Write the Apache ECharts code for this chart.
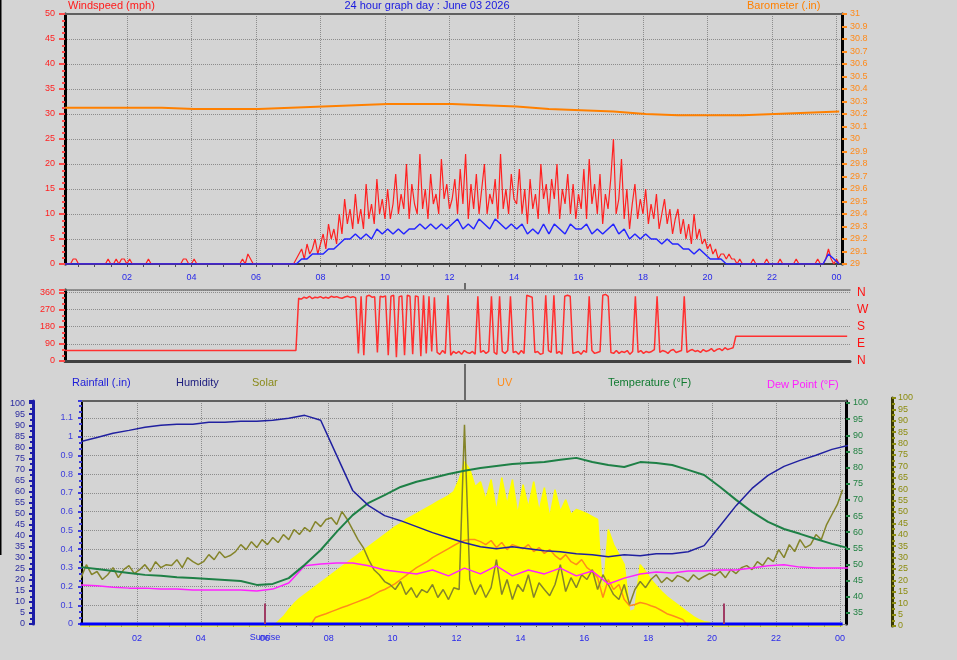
<!DOCTYPE html>
<html>
<head>
<meta charset="utf-8">
<script src="https://cdn.jsdelivr.net/npm/echarts@6/dist/echarts.min.js"></script>
<style>
html,body{margin:0;padding:0;background:#d4d4d4;}
#c{width:957px;height:660px;}
</style>
</head>
<body>
<div id="c"></div>
<script>
// ---------- tick labels ----------
const hourLabels = [2,4,6,8,10,12,14,16,18,20,22,24];
const tempTicks = [35,40,45,50,55,60,65,70,75,80,85,90,95,100];
const dirLetters = {0:'N',90:'E',180:'S',270:'W',360:'N'};
const sunEvents = [6.0, 20.37];   // sunrise / sunset (hours)

// ---------- 5-minute data (first sample 00:05) ----------
const windGust = [
 0,0,0,1,1,0,0,0,0,0,0,0,
 0,0,0,0,1,0,0,1,0,1,1,0,
 1,0,0,0,0,0,0,1,0,0,0,0,
 0,0,0,0,0,0,0,0,1,1,0,0,
 1,0,0,0,0,0,0,0,0,0,0,0,
 0,0,0,0,0,0,1,0,2,1,0,0,
 0,0,0,0,0,0,0,0,0,0,0,0,
 0,0,1,2,3,1,4,2,3,5,2,4,
 6,3,8,5,7,4,10,6,13,8,11,7,
 14,8,11,7,16,9,12,8,17,10,13,9,
 15,9,12,18,10,14,11,20,9,16,12,10,
 22,11,15,9,18,12,14,10,21,13,16,11,
 13,17,10,19,12,22,9,16,11,18,10,15,
 20,10,14,12,17,9,22,11,15,10,18,13,
 12,19,10,15,8,17,11,14,9,20,13,16,
 10,17,13,20,9,15,12,18,10,16,9,14,
 11,19,9,21,12,16,10,18,8,14,11,17,
 25,10,13,21,9,15,7,12,16,9,13,10,
 15,8,12,9,14,7,10,13,8,11,6,9,
 11,6,9,5,8,4,10,5,7,4,5,3,
 4,2,3,1,2,2,1,2,1,1,0,1,
 0,0,0,0,1,0,0,0,0,1,0,0,
 0,0,1,0,0,0,0,0,1,0,0,0,
 0,0,0,0,1,0,0,1,3,1,0,1,
 0];
const windDir = [
 55,55,55,55,55,55,55,55,55,55,55,55,
 55,55,55,55,55,55,55,55,55,55,55,55,
 55,55,55,55,55,55,55,55,55,55,55,55,
 55,55,55,55,55,55,55,55,55,55,55,55,
 55,55,55,55,55,55,55,55,55,55,55,55,
 55,55,55,55,55,55,55,55,55,55,55,55,
 55,55,55,55,55,55,55,55,55,55,55,55,
 55,55,330,325,335,330,340,328,335,332,338,330,
 335,330,340,335,338,332,330,336,340,334,338,332,
 40,340,30,340,345,335,338,45,340,336,342,30,
 340,345,20,338,342,30,345,340,35,342,338,25,
 345,40,340,50,335,45,35,55,40,345,30,50,
 40,50,35,55,45,40,50,35,340,45,55,40,
 50,340,45,35,340,50,40,55,340,45,50,35,
 55,40,345,340,335,45,50,35,40,345,55,45,
 345,40,50,35,340,345,340,40,45,50,35,55,
 45,340,55,40,45,50,345,350,340,45,40,55,
 40,50,45,55,35,50,340,45,55,40,50,45,
 50,60,340,45,55,50,40,55,60,45,50,55,
 340,45,55,60,50,55,45,60,50,55,65,50,
 60,65,55,70,60,65,70,130,130,130,130,130,
 130,130,130,130,130,130,130,130,130,130,130,130,
 130,130,130,130,130,130,130,130,130,130,130,130,
 130,130,130,130,130,130,130,130,130,130,130,130,
 130];

// ---------- 10-minute data (first sample 00:05) ----------
const windAvg = [
 0,0,0,0,0,0, 0,0,0,0,0,0, 0,0,0,0,0,0, 0,0,0,0,0,0, 0,0,0,0,0,0, 0,0,0,0,0,0,
 0,0,0,0,0,0, 0,0,1,1,2,2, 2,3,3,4,5,5, 6,5,6,5,7,6, 7,6,7,6,7,7,
 8,7,8,7,8,7, 8,9,7,8,7,9, 8,7,9,8,7,8, 7,8,6,7,6,8,
 6,8,7,6,8,7, 7,8,6,7,6,7, 8,6,7,5,6,5, 6,5,5,4,5,4,
 4,3,3,2,3,2, 1,1,1,0,0,0, 0,0,0,0,0,0, 0,0,0,0,0,0, 0,0,0,0,2,1, 0];
const solarLine = [
 24.7,21.2,26.9,22.5,23.9,20.4, 22.5,25.6,21.2,24.7,26.5,23.0, 24.7,26.9,23.9,28.2,25.6,26.9,
 26.5,29.1,25.6,30.0,28.2,26.9, 28.2,31.3,29.1,32.6,30.0,30.9, 32.6,35.7,33.5,37.0,34.4,37.9,
 35.7,38.8,36.6,40.1,37.9,42.3, 40.1,43.2,41.4,45.8,43.6,46.7, 47.5,44.5,50.2,46.7,42.3,37.9,
 34.4,29.1,24.7,22.5,19.5,18.2, 16.0,19.5,13.8,16.8,12.5,16.0, 14.6,18.2,12.5,16.0,11.6,16.8,
 16.0,88.3,20.4,13.8,18.2,12.5, 16.8,29.1,13.8,20.4,11.6,18.2, 15.1,22.5,12.5,19.0,16.0,13.3,
 18.2,26.9,15.1,21.2,16.8,22.5, 20.4,24.7,16.0,22.5,18.2,13.8, 11.6,18.2,9.4,16.0,19.5,16.8,
 20.4,22.5,19.0,21.2,19.5,22.1, 21.2,19.5,22.5,20.4,21.7,23.0, 22.1,23.9,21.2,24.7,23.0,25.6,
 26.5,24.7,28.2,26.5,30.0,28.2, 33.5,30.0,35.7,32.6,37.9,34.4, 35.7,40.1,37.9,44.5,48.9,53.2, 59.8];
const solarArea = [
 0,0,0,0,0,0, 0,0,0,0,0,0, 0,0,0,0,0,0, 0,0,0,0,0,0, 0,0,0,0,0,0, 0,0,0,0,0,0,
 0,0,1.9,4.1,7.2,9.8, 12.0,13.8,15.5,17.3,19.0,20.8, 22.5,24.3,26.1,27.8,29.6,31.3,
 33.1,34.8,36.6,38.3,40.1,41.8, 43.6,44.9,46.7,48.0,49.3,50.6, 51.9,53.2,54.6,55.9,57.2,59.0,
 64.2,72.1,68.6,61.1,63.3,55.4, 64.2,50.2,65.1,53.2,64.2,48.9, 62.0,51.9,63.3,50.2,60.7,47.5,
 59.8,50.2,55.4,48.9,51.1,50.2, 49.3,48.0,46.7,11.6,42.3,35.7, 31.3,26.9,6.3,7.2,26.9,23.9,
 20.4,17.7,15.1,12.9,11.1,9.4, 7.6,5.9,4.1,2.8,1.9,1.5,
 0,0,0,0,0,0, 0,0,0,0,0,0, 0,0,0,0,0,0, 0,0,0,0,0,0, 0];
const uvIndex = [
 null,null,null,null,null,null, null,null,null,null,null,null, null,null,null,null,null,null,
 null,null,null,null,null,null, null,null,null,null,null,null, null,null,null,null,null,null,
 null,null,null,null,null,null, null,null,0,3.7,4.6,5.4, 6.3,7.2,8.1,8.9,9.8,10.7,
 11.6,12.5,13.8,15.1,16.0,17.3, 18.6,20.4,22.1,23.9,25.6,26.9, 28.2,30.0,31.3,32.6,33.9,35.3,
 36.6,37.5,37.9,37.9,37.0,35.7, 37.5,34.4,36.6,33.5,35.7,34.8, 33.9,35.7,32.6,34.4,31.8,33.5,
 30.9,29.1,31.3,28.2,26.9,29.1, 25.6,23.9,21.2,12.5,20.4,16.0, 18.2,11.6,8.9,9.4,10.3,9.8,
 8.9,8.1,6.8,5.4,4.6,3.7, 2.8,0,null,null,null,null,
 null,null,null,null,null,null, null,null,null,null,null,null, null,null,null,null,null,null,
 null,null,null,null,null,null, null];

// ---------- 30-minute data (first sample 00:15) ----------
const humidity = [82.7,84.5,86.4,87.7,89.1,90.0,90.5,90.5,91.4,91.4,
 91.8,91.8,92.3,93.2,94.5,92.3,76.4,60.5,53.6,49.1,
 46.8,44.1,41.4,39.1,36.8,35.0,34.1,35.0,34.1,33.2,
 32.7,31.8,31.4,30.5,31.4,30.9,31.8,31.8,32.7,35.5,
 44.5,53.6,61.4,67.3,71.4,74.1,76.4,79.1,80.9];
const temperature = [49.2,48.6,48.0,47.4,46.8,46.5,46.1,45.8,45.5,45.2,
 44.9,43.7,44.0,45.8,49.9,54.5,60.1,65.3,69.1,71.5,
 74.0,75.6,76.8,78.0,79.0,79.9,80.5,81.1,81.4,81.7,
 82.4,83.0,81.7,80.8,80.2,81.7,81.4,80.8,79.3,77.7,
 74.0,70.0,66.3,63.2,61.0,59.5,57.9,56.4,55.1];
const dewPoint = [43.7,43.4,43.0,42.7,42.7,42.4,42.4,42.1,42.1,42.1,
 42.1,41.8,42.4,44.3,49.6,50.2,50.5,50.5,49.6,48.3,
 47.7,47.1,48.3,46.5,48.9,47.1,49.6,46.5,48.3,47.1,
 48.9,46.5,48.0,44.0,45.8,47.1,47.7,47.4,48.0,48.0,
 48.3,48.3,48.9,49.6,49.9,49.2,48.9,48.9,48.9];

// ---------- hourly data (first sample 00:05) ----------
const barometer = [30.25,30.25,30.25,30.25,30.24,30.24,30.24,30.25,30.26,30.27,
 30.28,30.28,30.28,30.27,30.26,30.24,30.23,30.22,30.20,30.19,30.19,30.19,30.20,30.21,30.22];
const rainfall = [0,0,0,0,0,0,0,0,0,0,0,0,0,0,0,0,0,0,0,0,0,0,0,0,0];

// ---------- build ----------
const FONT = '"Liberation Sans", Arial, sans-serif';
const pairs = (vals, startMin, stepMin) => vals.map((v, i) => [(startMin + stepMin * i) / 60, v]);
const halfHours = [];
for (let h = 0.5; h <= 24.001; h += 0.5) halfHours.push(h);
const hourFmt = v => String(Math.round(v) % 24).padStart(2, '0');

const TOP_X = {min: 0.08, max: 24.17};
const MID_X = {min: 0.08, max: 24.17};
const BOT_X = {min: 0.28, max: 24.19};

function labelAxis(grid, rng, margin) {
  return {type:'value', gridIndex:grid, min:rng.min, max:rng.max, position:'bottom',
    axisLine:{show:true, onZero:false, lineStyle:{color:'#404040', width:2}},
    axisTick:{show:false, customValues:hourLabels},
    axisLabel:{customValues:hourLabels, formatter:hourFmt, color:'#2828e8', fontSize:9, margin:margin, fontFamily:FONT},
    splitLine:{show:true, lineStyle:{color:'#8c8c8c', type:'dotted', width:1}}};
}
function tickAxis(grid, rng) {
  return {type:'value', gridIndex:grid, min:rng.min, max:rng.max, position:'bottom',
    axisLine:{show:false, onZero:false},
    axisTick:{show:true, customValues:halfHours, length:3, lineStyle:{color:'#505050'}},
    axisLabel:{show:false}, splitLine:{show:false}};
}
function borderAxis(grid, rng, pos, color, width) {
  return {type:'value', gridIndex:grid, min:rng.min, max:rng.max, position:pos,
    axisLine:{show:true, onZero:false, lineStyle:{color:color, width:width}},
    axisTick:{show:false}, axisLabel:{show:false}, splitLine:{show:false}};
}

const chart = echarts.init(document.getElementById('c'), null, {renderer:'canvas'});
const option = {
  backgroundColor:'#d4d4d4',
  animation:false,
  textStyle:{fontFamily:FONT},
  grid:[
    {left:65, right:115, top:14, height:250},
    {left:65, right:107, top:290, height:71},
    {left:82, right:111, top:401, height:223},
    {left:82, right:111, top:398, height:228}
  ],
  xAxis:[
    labelAxis(0, TOP_X, 9),                          //0
    tickAxis(0, TOP_X),                              //1
    borderAxis(0, TOP_X, 'top', '#606060', 2),       //2
    borderAxis(1, MID_X, 'bottom', '#404040', 3),    //3
    borderAxis(1, MID_X, 'top', '#7a7a7a', 1.5),     //4
    Object.assign(labelAxis(2, BOT_X, 10), {axisLine:{show:true, onZero:false, lineStyle:{color:'#808080', width:1}}}), //5
    tickAxis(2, BOT_X),                              //6
    borderAxis(2, BOT_X, 'top', '#606060', 2),       //7
    {type:'value', gridIndex:3, min:BOT_X.min, max:BOT_X.max, show:false} //8
  ],
  yAxis:[
    {type:'value', gridIndex:0, min:0, max:50, interval:5, position:'left',
     axisLine:{show:true, onZero:false, lineStyle:{color:'#000', width:3}},
     axisTick:{show:true, length:6, lineStyle:{color:'#ff4a4a', width:2}},
     minorTick:{show:true, splitNumber:4, length:3, lineStyle:{color:'#ff4a4a', width:2}},
     axisLabel:{color:'#ff2020', fontSize:9, margin:10, fontFamily:FONT},
     splitLine:{show:true, lineStyle:{color:'#8c8c8c', type:'dotted'}}},
    {type:'value', gridIndex:0, min:29, max:31, interval:0.1, position:'right',
     axisLine:{show:true, onZero:false, lineStyle:{color:'#000', width:3}},
     axisTick:{show:true, length:5, lineStyle:{color:'#ff8a1a', width:2}},
     axisLabel:{color:'#ff8a1a', fontSize:9, margin:8, fontFamily:FONT, formatter:v => String(+v.toFixed(1))},
     splitLine:{show:false}},
    {type:'value', gridIndex:1, min:0, max:373, interval:90, position:'left',
     axisLine:{show:true, onZero:false, lineStyle:{color:'#000', width:3}},
     axisTick:{show:true, length:6, lineStyle:{color:'#ff4a4a', width:2}},
     minorTick:{show:true, splitNumber:3, length:3, lineStyle:{color:'#ff4a4a', width:2}},
     axisLabel:{color:'#ff2020', fontSize:9, margin:10, fontFamily:FONT, showMaxLabel:false},
     splitLine:{show:true, lineStyle:{color:'#8c8c8c', type:'dotted'}}},
    {type:'value', gridIndex:1, min:0, max:373, interval:90, position:'right',
     axisLine:{show:false, onZero:false}, axisTick:{show:false},
     axisLabel:{color:'#ff1010', fontSize:12, margin:7, fontFamily:FONT, showMaxLabel:false,
       formatter:v => dirLetters[Math.round(v)] || ''},
     splitLine:{show:false}},
    {type:'value', gridIndex:2, min:0, max:1.19, interval:0.1, position:'left', offset:0,
     axisLine:{show:true, onZero:false, lineStyle:{color:'#000', width:2}},
     axisTick:{show:true, length:4, lineStyle:{color:'#3c3cdc', width:2}},
     minorTick:{show:true, splitNumber:3, length:3, lineStyle:{color:'#3c3cdc', width:2}},
     axisLabel:{color:'#3c3cdc', fontSize:9, margin:9, fontFamily:FONT, showMaxLabel:false},
     splitLine:{show:true, lineStyle:{color:'#8c8c8c', type:'dotted'}}},
    {type:'value', gridIndex:2, min:0, max:101, interval:5, position:'left', offset:49,
     axisLine:{show:true, onZero:false, lineStyle:{color:'#1c1ca8', width:3}},
     axisTick:{show:true, length:4, lineStyle:{color:'#1c1ca8', width:2}},
     minorTick:{show:true, splitNumber:2, length:3, lineStyle:{color:'#1c1ca8', width:2}},
     axisLabel:{color:'#2a2aa0', fontSize:9, margin:8, fontFamily:FONT, showMaxLabel:false},
     splitLine:{show:false}},
    {type:'value', gridIndex:2, min:31.6, max:100.6, position:'right', offset:0,
     axisLine:{show:true, onZero:false, lineStyle:{color:'#000', width:3}},
     axisTick:{show:true, customValues:tempTicks, length:4, lineStyle:{color:'#208040', width:2}},
     axisLabel:{customValues:tempTicks, color:'#208040', fontSize:9, margin:7, fontFamily:FONT},
     splitLine:{show:false}},
    {type:'value', gridIndex:3, min:0, max:100, interval:5, position:'right', offset:46,
     axisLine:{show:true, onZero:false, lineStyle:{color:'#3a3a00', width:3}},
     axisTick:{show:true, length:4, lineStyle:{color:'#8c8c10', width:2}},
     minorTick:{show:true, splitNumber:2, length:3, lineStyle:{color:'#8c8c10', width:2}},
     axisLabel:{color:'#8c8c10', fontSize:9, margin:6, fontFamily:FONT},
     splitLine:{show:false}}
  ],
  series:[
    {type:'line', name:'Barometer', xAxisIndex:0, yAxisIndex:1, data:pairs(barometer, 5, 60),
     symbol:'none', lineStyle:{color:'#ff8000', width:2}},
    {type:'line', name:'Gust', xAxisIndex:0, yAxisIndex:0, data:pairs(windGust, 5, 5),
     symbol:'none', lineStyle:{color:'#ff2020', width:1.2}},
    {type:'line', name:'Wind', xAxisIndex:0, yAxisIndex:0, data:pairs(windAvg, 5, 10),
     symbol:'none', lineStyle:{color:'#2424ff', width:1.5}},
    {type:'line', name:'Direction', xAxisIndex:3, yAxisIndex:2, data:pairs(windDir, 5, 5),
     symbol:'none', lineStyle:{color:'#ff3030', width:1.5}},
    {type:'line', name:'SolarArea', xAxisIndex:8, yAxisIndex:7, data:pairs(solarArea, 5, 10),
     symbol:'none', lineStyle:{color:'#ffff00', width:1.5}, areaStyle:{color:'#ffff00', opacity:1}},
    {type:'line', name:'UV', xAxisIndex:8, yAxisIndex:7, data:pairs(uvIndex, 5, 10),
     symbol:'none', connectNulls:false, lineStyle:{color:'#ff8c1a', width:1.5}},
    {type:'line', name:'Solar', xAxisIndex:8, yAxisIndex:7, data:pairs(solarLine, 5, 10),
     symbol:'none', lineStyle:{color:'#84842a', width:1.5}},
    {type:'line', name:'Dew Point', xAxisIndex:5, yAxisIndex:6, data:pairs(dewPoint, 15, 30),
     symbol:'none', lineStyle:{color:'#ff22ff', width:1.5}},
    {type:'line', name:'Temperature', xAxisIndex:5, yAxisIndex:6, data:pairs(temperature, 15, 30),
     symbol:'none', lineStyle:{color:'#1e8046', width:2}},
    {type:'line', name:'Humidity', xAxisIndex:5, yAxisIndex:5, data:pairs(humidity, 15, 30),
     symbol:'none', lineStyle:{color:'#2020a0', width:1.5}},
    {type:'line', name:'Rainfall', xAxisIndex:5, yAxisIndex:4, data:pairs(rainfall, 5, 60),
     symbol:'none', lineStyle:{color:'#0000ff', width:3}, clip:false,
     markLine:{silent:true, symbol:['none','none'], label:{show:false},
       lineStyle:{color:'#a03c64', width:2, type:'solid'},
       data:sunEvents.map(t => [{coord:[t, 0]}, {coord:[t, 0.11]}])}}
  ],
  graphic:[
    {type:'rect', shape:{x:0, y:0, width:1.5, height:555}, style:{fill:'#000'}, silent:true},
    {type:'line', shape:{x1:465, y1:283, x2:465, y2:290}, style:{stroke:'#000', lineWidth:1}, silent:true},
    {type:'line', shape:{x1:465, y1:364, x2:465, y2:400}, style:{stroke:'#000', lineWidth:1}, silent:true},
    {type:'text', x:68, y:6, style:{text:'Windspeed (mph)', fill:'#ff1a1a', font:'11px '+FONT, verticalAlign:'middle', textVerticalAlign:'middle'}},
    {type:'text', x:427, y:6, style:{text:'24 hour graph day : June 03 2026', fill:'#1818e0', font:'11px '+FONT, align:'center', textAlign:'center', verticalAlign:'middle', textVerticalAlign:'middle'}},
    {type:'text', x:747, y:6, style:{text:'Barometer (.in)', fill:'#ff8000', font:'11px '+FONT, verticalAlign:'middle', textVerticalAlign:'middle'}},
    {type:'text', x:72, y:383, style:{text:'Rainfall (.in)', fill:'#1c1cd8', font:'11px '+FONT, verticalAlign:'middle', textVerticalAlign:'middle'}},
    {type:'text', x:176, y:383, style:{text:'Humidity', fill:'#202080', font:'11px '+FONT, verticalAlign:'middle', textVerticalAlign:'middle'}},
    {type:'text', x:252, y:383, style:{text:'Solar', fill:'#8a8a1a', font:'11px '+FONT, verticalAlign:'middle', textVerticalAlign:'middle'}},
    {type:'text', x:497, y:383, style:{text:'UV', fill:'#ff8c1a', font:'11px '+FONT, verticalAlign:'middle', textVerticalAlign:'middle'}},
    {type:'text', x:608, y:383, style:{text:'Temperature (°F)', fill:'#107a30', font:'11px '+FONT, verticalAlign:'middle', textVerticalAlign:'middle'}},
    {type:'text', x:767, y:385, style:{text:'Dew Point (°F)', fill:'#ff20ff', font:'11px '+FONT, verticalAlign:'middle', textVerticalAlign:'middle'}},
    {type:'text', x:265, y:638, style:{text:'Sunrise', fill:'#2828e8', font:'9px '+FONT, align:'center', textAlign:'center', verticalAlign:'middle', textVerticalAlign:'middle'}}
  ]
};
chart.setOption(option);
</script>
</body>
</html>
